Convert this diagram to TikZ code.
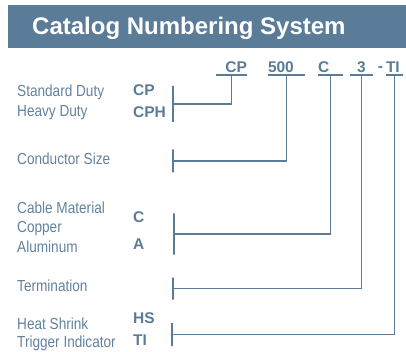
\documentclass[tikz,border=0pt]{standalone}
\usepackage{fontspec}
\setmainfont{Liberation Sans}
\newfontfamily\narrowfont[FakeStretch=0.85]{Liberation Sans}
\usetikzlibrary{positioning}
\definecolor{catblue}{RGB}{91,124,152}
\definecolor{catlabel}{RGB}{98,130,158}

\begin{document}
\begin{tikzpicture}[x=1pt,y=-1pt,
    hdr/.style={fill=catblue,minimum width=398pt,minimum height=43pt,inner sep=0pt},
    ttl/.style={text=white,font=\fontsize{24}{28}\selectfont\bfseries,inner sep=0pt,anchor=base west},
    lbl/.style={text=catlabel,font=\narrowfont\fontsize{16}{18}\selectfont,inner sep=0pt,anchor=base west},
    code/.style={text=catblue,font=\fontsize{15.5}{18}\selectfont\bfseries,inner sep=0pt,anchor=base west},
    part/.style={text=catblue,font=\fontsize{15.5}{18}\selectfont\bfseries,inner xsep=0pt,inner ysep=2pt,
      anchor=south,text depth=0pt,text width=#1},
    brk/.style={draw=catblue,line width=1.2pt,minimum width=0pt,minimum height=#1,inner sep=0pt},
    wire/.style={draw=catblue,line width=1.2pt}]
  \useasboundingbox (0,0) rectangle (406,352);

  \node[hdr] (head) at (207,26.5) {};
  \node[ttl] (title) at (32,35) {Catalog Numbering System};

  \node[part=31pt,align=right] (pCP) at (231.5,75) {CP};
  \node[part=37pt,align=left] (p500) at (286.5,75) {500};
  \node[part=25pt,align=left] (pC) at (330.5,75) {C};
  \node[part=23pt,align=center] (p3) at (361.5,75) {3};
  \node[code,anchor=base] (dash) at (380.5,72) {-};
  \node[part=17pt,align=left] (pTI) at (394.5,75) {TI};
  \foreach \p in {pCP,p500,pC,p3,pTI}
    \draw[wire] (\p.south west) -- (\p.south east);

  \node[lbl] (std) at (17,97) {Standard Duty};
  \node[lbl] (hvy) at (17,117) {Heavy Duty};
  \node[code] (cCP) at (133,96) {CP};
  \node[code] (cCPH) at (133,118) {CPH};
  \node[lbl] (size) at (17,165) {Conductor Size};
  \node[lbl] (cable) at (17,214) {Cable Material};
  \node[lbl] (copper) at (17,233) {Copper};
  \node[lbl] (alu) at (17,252) {Aluminum};
  \node[code] (cC) at (133,223) {C};
  \node[code] (cA) at (133,249) {A};
  \node[lbl] (term) at (17,291) {Termination};
  \node[lbl] (heat) at (17,329) {Heat Shrink};
  \node[lbl] (trig) at (17,347) {Trigger Indicator};
  \node[code] (cHS) at (133,323) {HS};
  \node[code] (cTI) at (133,345) {TI};

  \node[brk=36pt] (bCP) at (173,104) {};
  \node[brk=23pt] (b500) at (173,161) {};
  \node[brk=41pt] (bC) at (174,234) {};
  \node[brk=22pt] (b3) at (173,288.5) {};
  \node[brk=23pt] (bTI) at (172,334.5) {};

  \draw[wire] (pCP.south) |- (bCP);
  \draw[wire] (p500.south) |- (b500);
  \draw[wire] (pC.south) |- (bC);
  \draw[wire] (p3.south) |- (b3);
  \draw[wire] (pTI.south) |- (bTI);
\end{tikzpicture}
\end{document}
